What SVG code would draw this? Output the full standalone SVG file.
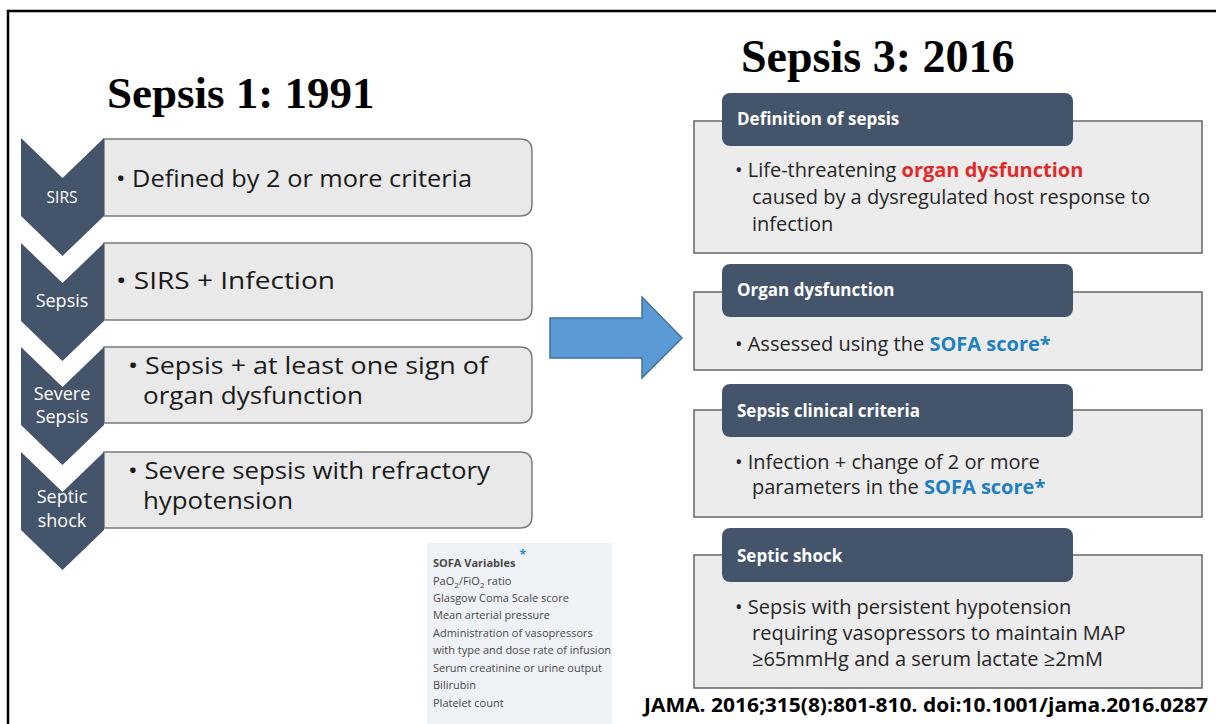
<svg xmlns="http://www.w3.org/2000/svg" width="1216" height="724" viewBox="0 0 1216 724">
<style>
.title{font-family:"Liberation Serif","Times New Roman",serif;font-weight:bold;fill:#000}
.chev{fill:#44546a}
.clab{font-family:"Open Sans",sans-serif;fill:#fff;text-anchor:middle}
.lbox{fill:#e9e9e9;stroke:#7a7a7a;stroke-width:1.5}
.ltxt{font-family:"Open Sans",sans-serif;font-size:24px;fill:#1a1a1a}
.rbox{fill:#ececec;stroke:#666;stroke-width:1.5}
.hdr{fill:#44546a}
.htxt{font-family:"Open Sans",sans-serif;font-size:17px;font-weight:bold;fill:#fff}
.rtxt{font-family:"Open Sans",sans-serif;font-size:20px;fill:#262626}
.red{fill:#e02a2a;font-weight:bold}
.blue{fill:#1f7fc0;font-weight:bold}
.sofa{font-family:"Open Sans",sans-serif;font-size:11px;fill:#4a4a4a}
</style>
<rect width="1216" height="724" fill="#fff"/>
<path d="M8,724 V11 H1216" fill="none" stroke="#000" stroke-width="2.5"/>

<text class="title" x="107" y="108" font-size="45">Sepsis 1: 1991</text>
<text class="title" x="741" y="72" font-size="46">Sepsis 3: 2016</text>

<g id="sirs">
<path class="lbox" d="M104,139 H520 Q532,139 532,151 V204 Q532,216 520,216 H104 Z"/>
<path class="chev" d="M21,138 L62.5,178 L104,138 V216 L62.5,256 L21,216 Z"/>
<text class="clab" x="62" y="203" font-size="15.5">SIRS</text>
<text class="ltxt" x="116" y="187" textLength="356" lengthAdjust="spacingAndGlyphs">• Defined by 2 or more criteria</text>
</g>
<g id="sepsis1">
<path class="lbox" d="M104,243 H520 Q532,243 532,255 V308 Q532,320 520,320 H104 Z"/>
<path class="chev" d="M21,243 L62.5,283 L104,243 V321 L62.5,361 L21,321 Z"/>
<text class="clab" x="62" y="307" font-size="18">Sepsis</text>
<text class="ltxt" x="116" y="289" textLength="219" lengthAdjust="spacingAndGlyphs">• SIRS + Infection</text>
</g>
<g id="severe">
<path class="lbox" d="M104,347 H520 Q532,347 532,359 V411 Q532,423 520,423 H104 Z"/>
<path class="chev" d="M21,347 L62.5,387 L104,347 V425 L62.5,465 L21,425 Z"/>
<text class="clab" x="62" y="400" font-size="18">Severe</text>
<text class="clab" x="62" y="423" font-size="18">Sepsis</text>
<text class="ltxt" x="128" y="374" textLength="360" lengthAdjust="spacingAndGlyphs">• Sepsis + at least one sign of</text>
<text class="ltxt" x="143" y="404" textLength="220" lengthAdjust="spacingAndGlyphs">organ dysfunction</text>
</g>
<g id="shock1">
<path class="lbox" d="M104,452 H520 Q532,452 532,464 V516 Q532,528 520,528 H104 Z"/>
<path class="chev" d="M21,452 L62.5,492 L104,452 V530 L62.5,570 L21,530 Z"/>
<text class="clab" x="62" y="503" font-size="18">Septic</text>
<text class="clab" x="62" y="527" font-size="18">shock</text>
<text class="ltxt" x="128" y="479" textLength="362" lengthAdjust="spacingAndGlyphs">• Severe sepsis with refractory</text>
<text class="ltxt" x="143" y="509" textLength="150" lengthAdjust="spacingAndGlyphs">hypotension</text>
</g>

<g id="connectors">
<path d="M550,318 H642 V297 L682,338 L642,378 V358 H550 Z" fill="#5b9bd5" stroke="#41719c" stroke-width="1.5"/>
</g>

<g id="def">
<rect class="rbox" x="694" y="121" width="508" height="132"/>
<rect class="hdr" x="722" y="93" width="351" height="53" rx="8"/>
<text class="htxt" x="737" y="125">Definition of sepsis</text>
<text class="rtxt" x="735" y="177">• Life-threatening <tspan class="red">organ dysfunction</tspan></text>
<text class="rtxt" x="752" y="204">caused by a dysregulated host response to</text>
<text class="rtxt" x="752" y="231">infection</text>
</g>
<g id="organ">
<rect class="rbox" x="694" y="292" width="508" height="78"/>
<rect class="hdr" x="722" y="264" width="351" height="53" rx="8"/>
<text class="htxt" x="737" y="296">Organ dysfunction</text>
<text class="rtxt" x="735" y="351">• Assessed using the <tspan class="blue">SOFA score*</tspan></text>
</g>
<g id="criteria">
<rect class="rbox" x="694" y="410" width="508" height="107"/>
<rect class="hdr" x="722" y="384" width="351" height="53" rx="8"/>
<text class="htxt" x="737" y="417">Sepsis clinical criteria</text>
<text class="rtxt" x="735" y="469">• Infection + change of 2 or more</text>
<text class="rtxt" x="752" y="494">parameters in the <tspan class="blue">SOFA score*</tspan></text>
</g>
<g id="shock3">
<rect class="rbox" x="694" y="555" width="508" height="133"/>
<rect class="hdr" x="722" y="528" width="351" height="54" rx="8"/>
<text class="htxt" x="737" y="562">Septic shock</text>
<text class="rtxt" x="735" y="614">• Sepsis with persistent hypotension</text>
<text class="rtxt" x="752" y="640">requiring vasopressors to maintain MAP</text>
<text class="rtxt" x="752" y="666">≥65mmHg and a serum lactate ≥2mM</text>
</g>

<g id="sofa">
<rect x="427" y="543" width="185" height="181" fill="#eef1f5"/>
<text class="sofa" x="433" y="567" font-weight="bold">SOFA Variables<tspan dx="4" dy="-8" font-size="12" fill="#2a8ad4">*</tspan></text>
<text class="sofa" x="433" y="585">PaO<tspan font-size="8" dy="3">2</tspan><tspan dy="-3">/FiO</tspan><tspan font-size="8" dy="3">2</tspan><tspan dy="-3"> ratio</tspan></text>
<text class="sofa" x="433" y="602">Glasgow Coma Scale score</text>
<text class="sofa" x="433" y="619">Mean arterial pressure</text>
<text class="sofa" x="433" y="637">Administration of vasopressors</text>
<text class="sofa" x="433" y="654" textLength="178" lengthAdjust="spacingAndGlyphs">with type and dose rate of infusion</text>
<text class="sofa" x="433" y="672">Serum creatinine or urine output</text>
<text class="sofa" x="433" y="689">Bilirubin</text>
<text class="sofa" x="433" y="707">Platelet count</text>
</g>

<text x="644" y="712" font-family="'Open Sans',sans-serif" font-size="19" font-weight="bold" fill="#000" textLength="564" lengthAdjust="spacingAndGlyphs">JAMA. 2016;315(8):801-810. doi:10.1001/jama.2016.0287</text>
</svg>
